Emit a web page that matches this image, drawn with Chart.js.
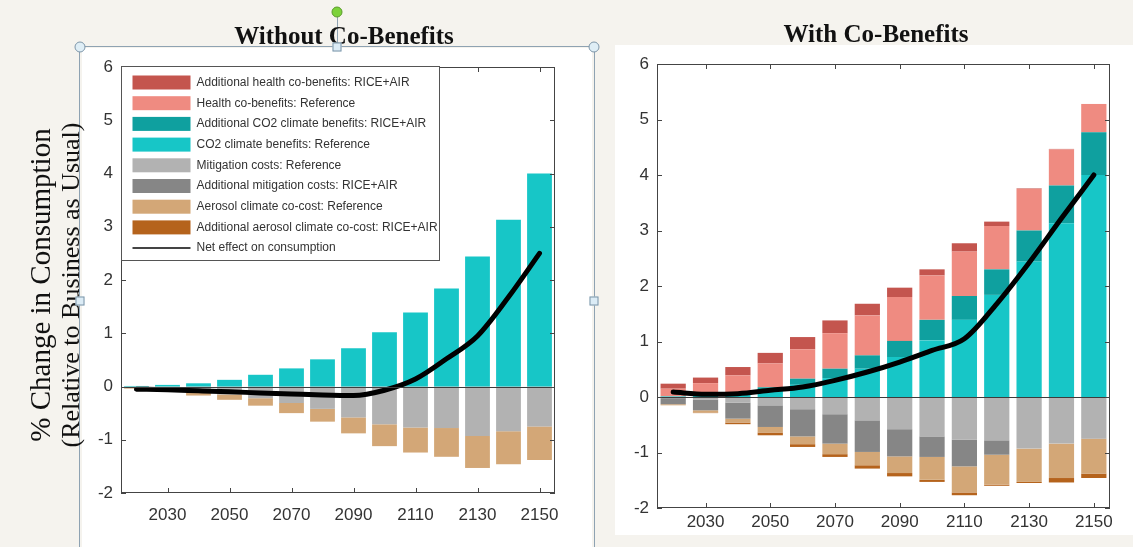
<!DOCTYPE html>
<html>
<head>
<meta charset="utf-8">
<script src="https://cdn.jsdelivr.net/npm/chart.js@4.4.1/dist/chart.umd.min.js"></script>
<style>
  body { margin: 0; width: 1133px; height: 547px; background: #f5f3ee; position: relative; overflow: hidden; }
  canvas { position: absolute; background: #fff; }
  .title { position: absolute; font: bold 25px "Liberation Serif", serif; color: #111; white-space: nowrap; transform: translateX(-50%); }
  #ytitle { position: absolute; left: 57px; top: 285px; transform: translate(-50%, -50%) rotate(-90deg); font-family: "Liberation Serif", serif; color: #111; text-align: center; line-height: 26px; white-space: nowrap; z-index: 5; }
  .sel { position: absolute; border: 1px solid #8ea2b2; z-index: 4; }
  .knob { position: absolute; width: 9px; height: 9px; border: 1px solid #7d95a8; background: #dfeef6; border-radius: 50%; z-index: 6; transform: translate(-50%, -50%); }
  .sq { position: absolute; width: 7px; height: 7px; border: 1px solid #7d95a8; background: #dcecf6; z-index: 6; transform: translate(-50%, -50%); }
</style>
</head>
<body>
<div class="sel" style="left:79px;top:46px;width:514px;height:520px;"></div>
<div class="sel" style="left:337px;top:14px;width:0;height:32px;border-width:0 0 0 1px;"></div>
<div class="knob" style="left:337px;top:12px;background:#7cd23a;border-color:#5a9a2a;"></div>
<div class="knob" style="left:80px;top:47px;"></div>
<div class="knob" style="left:594px;top:47px;"></div>
<div class="sq" style="left:337px;top:47px;"></div>
<div class="sq" style="left:80px;top:301px;"></div>
<div class="sq" style="left:594px;top:301px;"></div>

<canvas id="left" width="510" height="499" style="left:82px;top:48px;"></canvas>
<canvas id="right" width="518" height="490" style="left:615px;top:45px;"></canvas>

<div class="title" style="left:344px;top:22px;z-index:5;">Without Co-Benefits</div>
<div class="title" style="left:876px;top:20px;">With Co-Benefits</div>
<div id="ytitle"><span style="font-size:29px">% Change in Consumption</span><br><span style="font-size:26px">(Relative to Business as Usual)</span></div>

<script>
// years on the x axis, labels only every 20 years
const years = ['2020', '2030', '2040', '2050', '2060', '2070', '2080', '2090', '2100', '2110', '2120', '2130', '2140', '2150'];
const shownYears = ['2030', '2050', '2070', '2090', '2110', '2130', '2150'];

// % change in consumption
const co2Ref    = [0.01, 0.03, 0.06, 0.125, 0.22, 0.34, 0.51, 0.72, 1.02, 1.39, 1.84, 2.44, 3.13, 4.0];
const co2Add    = [0, 0, 0.01, 0.05, 0.11, 0.17, 0.24, 0.29, 0.37, 0.43, 0.46, 0.56, 0.68, 0.77];
const healthRef = [0.14, 0.22, 0.32, 0.43, 0.53, 0.64, 0.72, 0.79, 0.80, 0.80, 0.78, 0.75, 0.65, 0.51];
const healthAdd = [0.09, 0.10, 0.15, 0.19, 0.22, 0.23, 0.21, 0.17, 0.11, 0.15, 0.08, 0.01, 0.01, 0];
const mitRef    = [-0.02, -0.05, -0.10, -0.15, -0.22, -0.31, -0.42, -0.58, -0.71, -0.77, -0.78, -0.93, -0.84, -0.75];
const mitAdd    = [-0.11, -0.19, -0.29, -0.39, -0.49, -0.53, -0.57, -0.49, -0.37, -0.48, -0.26, 0, 0, 0];
const aeroRef   = [-0.02, -0.04, -0.07, -0.10, -0.14, -0.19, -0.24, -0.30, -0.41, -0.47, -0.54, -0.60, -0.62, -0.63];
const aeroAdd   = [0, -0.01, -0.03, -0.05, -0.05, -0.05, -0.06, -0.06, -0.04, -0.05, -0.02, -0.02, -0.08, -0.08];
const netWithout = [-0.05, -0.06, -0.08, -0.10, -0.12, -0.14, -0.16, -0.17, -0.07, 0.14, 0.52, 0.95, 1.68, 2.5];
const netWith    = [0.09, 0.05, 0.06, 0.12, 0.18, 0.30, 0.45, 0.63, 0.84, 1.05, 1.68, 2.42, 3.22, 4.0];

const labels = {
  healthAdd: 'Additional health co-benefits: RICE+AIR',
  healthRef: 'Health co-benefits: Reference',
  co2Add: 'Additional CO2 climate benefits: RICE+AIR',
  co2Ref: 'CO2 climate benefits: Reference',
  mitRef: 'Mitigation costs: Reference',
  mitAdd: 'Additional mitigation costs: RICE+AIR',
  aeroRef: 'Aerosol climate co-cost: Reference',
  aeroAdd: 'Additional aerosol climate co-cost: RICE+AIR',
  net: 'Net effect on consumption'
};
const colors = {
  healthAdd: '#c4554e', healthRef: '#ef8b81', co2Add: '#0fa09f', co2Ref: '#17c6c7',
  mitRef: '#b2b2b2', mitAdd: '#868686', aeroRef: '#d3a777', aeroAdd: '#b5631c', net: '#000'
};
const legendOrder = ['healthAdd', 'healthRef', 'co2Add', 'co2Ref', 'mitRef', 'mitAdd', 'aeroRef', 'aeroAdd', 'net'];

function bar(key, data, pct) {
  return { type: 'bar', label: labels[key], data: data, backgroundColor: colors[key],
    stack: 'main', order: 1, categoryPercentage: 1, barPercentage: pct };
}
function netLine(data) {
  return { type: 'line', label: labels.net, data: data, borderColor: '#000', borderWidth: 5,
    pointRadius: 0, cubicInterpolationMode: 'monotone', stack: 'net', order: 0, borderCapStyle: 'round' };
}

// box, inward ticks, zero line, boxed legend
const framePlugin = {
  id: 'frame',
  afterDatasetsDraw(chart, args, opts) {
    const { ctx, chartArea: a, scales: { x, y } } = chart;
    ctx.save();
    ctx.strokeStyle = '#3c3c3c';
    ctx.lineWidth = 1;
    const y0 = Math.round(y.getPixelForValue(0)) + 0.5;
    ctx.beginPath();
    ctx.moveTo(a.left, y0); ctx.lineTo(a.right, y0);
    ctx.stroke();

    ctx.strokeStyle = '#444';
    ctx.strokeRect(Math.round(a.left) + 0.5, Math.round(a.top) + 0.5, Math.round(a.width) - 1, Math.round(a.height) - 1);
    ctx.beginPath();
    years.forEach((yr, i) => {
      if (!shownYears.includes(yr)) return;
      const px = Math.round(x.getPixelForTick(i)) + 0.5;
      ctx.moveTo(px, a.bottom); ctx.lineTo(px, a.bottom - 5);
      ctx.moveTo(px, a.top); ctx.lineTo(px, a.top + 5);
    });
    y.ticks.forEach((t, i) => {
      const py = Math.round(y.getPixelForTick(i)) + 0.5;
      ctx.moveTo(a.left, py); ctx.lineTo(a.left + 5, py);
      ctx.moveTo(a.right, py); ctx.lineTo(a.right - 5, py);
    });
    ctx.stroke();

    if (opts.legend) {
      const lx = Math.round(a.left) + 0.5, ly = Math.round(a.top) - 0.5;
      const w = 318, h = 194;
      ctx.fillStyle = '#fff';
      ctx.fillRect(lx, ly, w, h);
      ctx.strokeStyle = '#555';
      ctx.strokeRect(lx, ly, w, h);
      ctx.font = '12px "Liberation Sans", Arial, sans-serif';
      ctx.textBaseline = 'middle';
      legendOrder.forEach((key, i) => {
        const cy = ly + 16 + i * 20.7;
        if (key === 'net') {
          ctx.strokeStyle = '#444';
          ctx.lineWidth = 2;
          ctx.beginPath();
          ctx.moveTo(lx + 11, cy); ctx.lineTo(lx + 69, cy);
          ctx.stroke();
        } else {
          ctx.fillStyle = colors[key];
          ctx.fillRect(lx + 11, cy - 7, 58, 14);
        }
        ctx.fillStyle = '#333';
        ctx.fillText(labels[key], lx + 75, cy);
      });
    }
    ctx.restore();
  }
};

function makeOptions(yWidth, xHeight, pad, xPad, legend) {
  return {
    responsive: false,
    animation: false,
    layout: { padding: pad },
    plugins: { legend: { display: false }, tooltip: { enabled: false }, frame: { legend: legend } },
    scales: {
      x: {
        stacked: true,
        offset: true,
        grid: { display: false, drawTicks: false },
        border: { display: false },
        afterFit: s => { s.height = xHeight; },
        ticks: {
          autoSkip: false, maxRotation: 0, padding: xPad, color: '#333',
          font: { family: '"Liberation Sans", Arial, sans-serif', size: 17 },
          callback: (v, i) => shownYears.includes(years[i]) ? years[i] : ''
        }
      },
      y: {
        stacked: true,
        min: -2, max: 6,
        grid: { display: false, drawTicks: false },
        border: { display: false },
        afterFit: s => { s.width = yWidth; },
        ticks: {
          stepSize: 1, padding: 8, color: '#333',
          font: { family: '"Liberation Sans", Arial, sans-serif', size: 17 }
        }
      }
    }
  };
}

new Chart(document.getElementById('left'), {
  data: {
    labels: years,
    datasets: [
      bar('co2Ref', co2Ref, 0.8),
      bar('mitRef', mitRef, 0.8),
      bar('aeroRef', aeroRef, 0.8),
      netLine(netWithout)
    ]
  },
  options: makeOptions(39, 54, { top: 19, right: 37, left: 0, bottom: 0 }, 12, true),
  plugins: [framePlugin]
});

new Chart(document.getElementById('right'), {
  data: {
    labels: years,
    datasets: [
      bar('co2Ref', co2Ref, 0.78),
      bar('co2Add', co2Add, 0.78),
      bar('healthRef', healthRef, 0.78),
      bar('healthAdd', healthAdd, 0.78),
      bar('mitRef', mitRef, 0.78),
      bar('mitAdd', mitAdd, 0.78),
      bar('aeroRef', aeroRef, 0.78),
      bar('aeroAdd', aeroAdd, 0.78),
      netLine(netWith)
    ]
  },
  options: makeOptions(42, 27, { top: 19, right: 23, left: 0, bottom: 0 }, 4, false),
  plugins: [framePlugin]
});
</script>
</body>
</html>
